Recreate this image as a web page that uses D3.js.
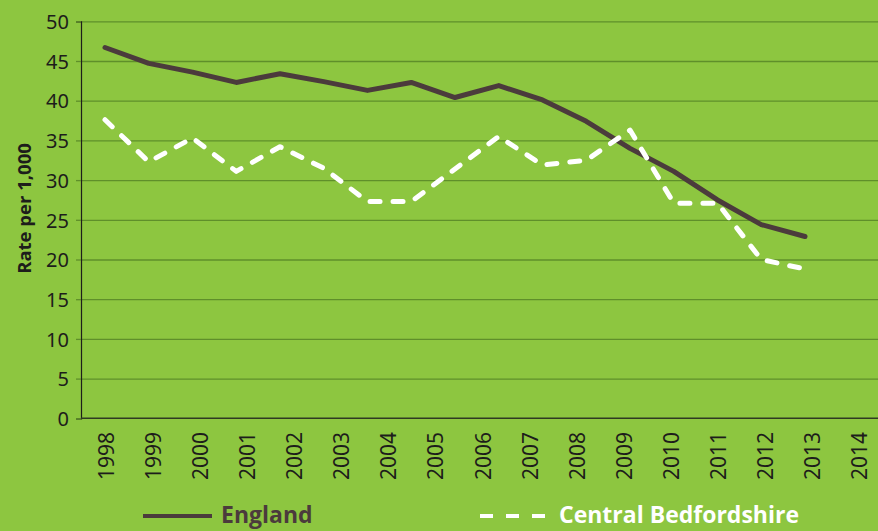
<!DOCTYPE html>
<html>
<head>
<meta charset="utf-8">
<script src="https://cdn.jsdelivr.net/npm/d3@7"></script>
<style>
  body { margin: 0; background: #8dc640; }
  svg { display: block; }
  .ylab text { font-family: "Noto Sans", sans-serif; font-size: 20px; fill: #1d1d1b; }
  .xlab { font-family: "Noto Sans", sans-serif; font-size: 21px; fill: #1d1d1b; }
  .title { font-family: "Open Sans", sans-serif; font-weight: bold; font-size: 18.5px; fill: #1d1d1b; }
  .legend { font-family: "Open Sans", sans-serif; font-weight: bold; font-size: 23px; }
</style>
</head>
<body>
<script>
// years shown on the x axis
var years = [1998, 1999, 2000, 2001, 2002, 2003, 2004, 2005, 2006,
             2007, 2008, 2009, 2010, 2011, 2012, 2013, 2014];

// rate per 1,000
var england = [46.7, 44.7, 43.6, 42.3, 43.4, 42.4, 41.3, 42.3, 40.4,
               41.9, 40.1, 37.4, 34.0, 31.1, 27.5, 24.4, 22.9];
var centralBeds = [37.6, 32.3, 35.3, 31.1, 34.2, 31.5, 27.3, 27.3, 31.4,
                   35.5, 31.9, 32.5, 36.3, 27.1, 27.1, 20.0, 18.8];

var yTicks = [0, 5, 10, 15, 20, 25, 30, 35, 40, 45, 50];
var seriesNames = ["England", "Central Bedfordshire"];

var W = 878, H = 531;
var margin = {top: 21.3, left: 81, right: 0, bottom: 112.7};

var svg = d3.select("body").append("svg")
    .attr("width", W)
    .attr("height", H);

svg.append("rect")
    .attr("width", W).attr("height", H)
    .attr("fill", "#8dc640");

var yScale = d3.scaleLinear()
    .domain([0, 50])
    .range([H - margin.bottom, margin.top]);

// labels sit on one spread, the lines on a slightly narrower one (as in the source)
var xLabel = d3.scalePoint()
    .domain(years)
    .range([107, 860]);

var xLine = d3.scalePoint()
    .domain(years)
    .range([105, 805]);

// gridlines
var grid = svg.append("g")
    .attr("transform", "translate(" + margin.left + ",0)")
    .call(d3.axisLeft(yScale).tickValues(yTicks.slice(1)).tickSize(-(W - margin.left)).tickFormat(""));
grid.select(".domain").remove();
grid.selectAll("line").attr("stroke", "#5f8f2a").attr("stroke-width", 1.3);

// y axis
var yAxis = svg.append("g")
    .attr("class", "ylab")
    .attr("transform", "translate(" + margin.left + ",0)")
    .call(d3.axisLeft(yScale).tickValues(yTicks).tickSize(5).tickPadding(7));
yAxis.select(".domain").attr("stroke", "#1d1d1b").attr("stroke-width", 1.2);
yAxis.selectAll(".tick line").attr("stroke", "#5f8f2a").attr("stroke-width", 1.3);
yAxis.selectAll("text").attr("dy", "0.36em");

// x axis line
svg.append("line")
    .attr("x1", margin.left).attr("x2", W)
    .attr("y1", yScale(0)).attr("y2", yScale(0))
    .attr("stroke", "#2f3a22").attr("stroke-width", 1.5);

// x labels, rotated
svg.selectAll(".xlab")
    .data(years)
    .enter()
    .append("text")
    .attr("class", "xlab")
    .attr("transform", function(d) {
        return "translate(" + (xLabel(d) + 7) + "," + 432 + ") rotate(-90)";
    })
    .style("text-anchor", "end")
    .text(function(d) { return d; });

// y title
svg.append("text")
    .attr("class", "title")
    .attr("transform", "translate(31," + 208.5 + ") rotate(-90)")
    .style("text-anchor", "middle")
    .text("Rate per 1,000");

var line = d3.line()
    .x(function(d, i) { return xLine(years[i]); })
    .y(function(d) { return yScale(d); });

svg.append("path")
    .datum(england)
    .attr("d", line)
    .attr("fill", "none")
    .attr("stroke", "#4b3b3c")
    .attr("stroke-width", 5)
    .attr("stroke-linejoin", "round")
    .attr("stroke-linecap", "round");

svg.append("path")
    .datum(centralBeds)
    .attr("d", line)
    .attr("fill", "none")
    .attr("stroke", "#ffffff")
    .attr("stroke-width", 5)
    .attr("stroke-dasharray", "10,13")
    .attr("stroke-linejoin", "round")
    .attr("stroke-linecap", "round");

// legend
svg.append("line")
    .attr("x1", 143).attr("x2", 212)
    .attr("y1", 516).attr("y2", 516)
    .attr("stroke", "#4b3b3c").attr("stroke-width", 4);
svg.append("text")
    .attr("class", "legend")
    .attr("x", 221).attr("y", 523)
    .attr("fill", "#4b3b3c")
    .text(seriesNames[0]);

svg.append("line")
    .attr("x1", 480).attr("x2", 550)
    .attr("y1", 516).attr("y2", 516)
    .attr("stroke", "#ffffff").attr("stroke-width", 4)
    .attr("stroke-dasharray", "13,13");
svg.append("text")
    .attr("class", "legend")
    .attr("x", 559).attr("y", 523)
    .attr("fill", "#ffffff")
    .text(seriesNames[1]);
</script>
</body>
</html>
